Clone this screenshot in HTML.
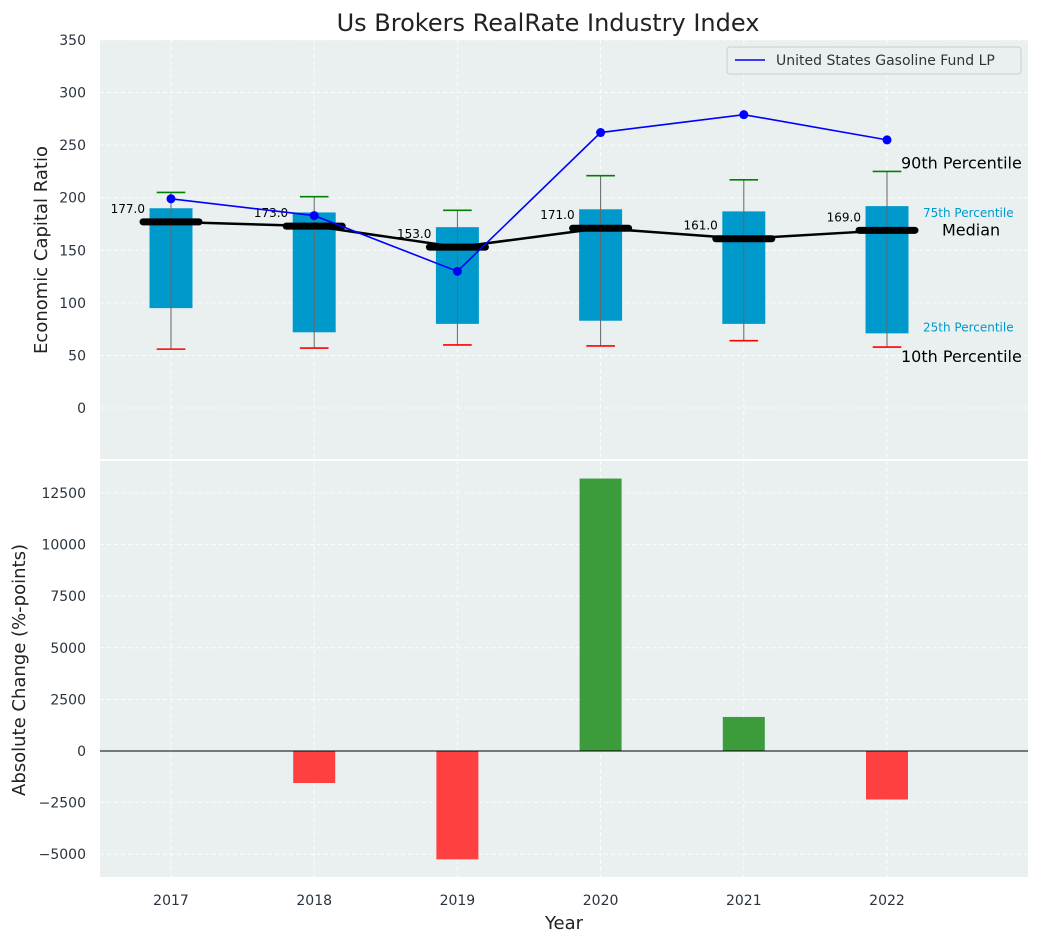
<!DOCTYPE html>
<html><head><meta charset="utf-8">
<style>
body{margin:0;background:#fff;font-family:"DejaVu Sans","Liberation Sans",sans-serif;}
svg text{font-family:"DejaVu Sans","Liberation Sans",sans-serif;}
</style></head>
<body>
<svg id="chart" width="1039" height="942" xmlns="http://www.w3.org/2000/svg"></svg>
<script>
const years = [2017, 2018, 2019, 2020, 2021, 2022];
const p10 = [56, 57, 60, 59, 64, 58];
const p25 = [95, 72, 80, 83, 80, 71];
const medians = [177, 173, 153, 171, 161, 169];
const p75 = [190, 186, 172, 189, 187, 192];
const p90 = [205, 201, 188, 221, 217, 225];
const fundValues = [199, 183, 130, 262, 279, 255];
const changes = [0, -1550, -5250, 13200, 1650, -2350];
const topTicks = [0, 50, 100, 150, 200, 250, 300, 350];
const botTicks = [-5000, -2500, 0, 2500, 5000, 7500, 10000, 12500];

const NS = "http://www.w3.org/2000/svg";
const svg = document.getElementById('chart');
function el(tag, attrs, parent) {
  const e = document.createElementNS(NS, tag);
  for (const k in attrs) e.setAttribute(k, attrs[k]);
  (parent || svg).appendChild(e);
  return e;
}
function txt(s, attrs, parent) { const t = el('text', attrs, parent); t.textContent = s; return t; }

const L = 100, R = 1028;
const x = v => 171 + (v - 2017) * 143.2;
const yT = v => 408 - v * 52.57 / 50;
const yB = v => 751 - v * 51.6 / 2500;
const tickColor = '#2a3440';

let e;
e = el('rect', {x: L, y: 40, width: R - L, height: 419, fill: '#eaeff0'});
 
e = el('rect', {x: L, y: 461, width: R - L, height: 416, fill: '#eaeff0'});
 

years.forEach(yr => {
  el('line', {x1: x(yr), x2: x(yr), y1: 40, y2: 459, stroke: '#fff', 'stroke-dasharray': '4,3', 'stroke-width': 0.8});
  el('line', {x1: x(yr), x2: x(yr), y1: 461, y2: 877, stroke: '#fff', 'stroke-dasharray': '4,3', 'stroke-width': 0.8});
});
topTicks.forEach(t => {
  el('line', {x1: L, x2: R, y1: yT(t), y2: yT(t), stroke: '#fff', 'stroke-dasharray': '4,3', 'stroke-width': 0.8});
  e = txt(t, {x: 86, y: yT(t) + 5, 'text-anchor': 'end', 'font-size': 14, fill: tickColor});
   
});
botTicks.forEach(t => {
  el('line', {x1: L, x2: R, y1: yB(t), y2: yB(t), stroke: '#fff', 'stroke-dasharray': '4,3', 'stroke-width': 0.8});
  e = txt(t < 0 ? '\u2212' + Math.abs(t) : t, {x: 86, y: yB(t) + 5, 'text-anchor': 'end', 'font-size': 14, fill: tickColor});
   
});

const hw = 0.15 * 143.2, cw = 0.1 * 143.2;
years.forEach((yr, i) => {
  const cx = x(yr);
  e = el('rect', {x: cx - hw, y: yT(p75[i]), width: 2 * hw, height: yT(p25[i]) - yT(p75[i]), fill: '#0099cc'});
   
  el('line', {x1: cx, x2: cx, y1: yT(p90[i]), y2: yT(p10[i]), stroke: '#666', 'stroke-width': 1});
  el('line', {x1: cx - cw, x2: cx + cw, y1: yT(p90[i]), y2: yT(p90[i]), stroke: 'green', 'stroke-width': 1.6});
  el('line', {x1: cx - cw, x2: cx + cw, y1: yT(p10[i]), y2: yT(p10[i]), stroke: 'red', 'stroke-width': 1.6});
});
el('polyline', {points: years.map((yr, i) => x(yr) + ',' + yT(medians[i])).join(' '), fill: 'none', stroke: '#000', 'stroke-width': 2.5});
years.forEach((yr, i) => {
  const cx = x(yr);
  e = el('line', {x1: cx - 28, x2: cx + 28, y1: yT(medians[i]), y2: yT(medians[i]), stroke: '#000', 'stroke-width': 7, 'stroke-linecap': 'round'});
   
  txt(medians[i].toFixed(1), {x: cx - 26, y: yT(medians[i]) - 9, 'text-anchor': 'end', 'font-size': 12, fill: '#000'});
});
el('polyline', {points: years.map((yr, i) => x(yr) + ',' + yT(fundValues[i])).join(' '), fill: 'none', stroke: 'blue', 'stroke-width': 1.6});
years.forEach((yr, i) => {
  e = el('circle', {cx: x(yr), cy: yT(fundValues[i]), r: 4.5, fill: 'blue'});
   
});
const ax = x(2022);
txt('90th Percentile', {x: ax + 14, y: yT(p90[5]) - 3, 'font-size': 16, fill: '#000'});
txt('75th Percentile', {x: ax + 36, y: yT(p75[5]) + 11, 'font-size': 12, fill: '#0099cc'});
txt('Median', {x: ax + 55, y: yT(medians[5]) + 5, 'font-size': 16, fill: '#000'});
txt('25th Percentile', {x: ax + 36, y: yT(p25[5]) - 2, 'font-size': 12, fill: '#0099cc'});
txt('10th Percentile', {x: ax + 14, y: yT(p10[5]) + 15, 'font-size': 16, fill: '#000'});

const lg = el('g', {});
 
el('rect', {x: 727, y: 47, width: 294, height: 27, fill: '#eaeff0', stroke: '#ccc', rx: 3}, lg);
el('line', {x1: 735, x2: 765, y1: 60, y2: 60, stroke: 'blue', 'stroke-width': 1.6}, lg);
txt('United States Gasoline Fund LP', {x: 776, y: 65, 'font-size': 14, fill: '#333'}, lg);

years.forEach((yr, i) => {
  const v = changes[i];
  e = el('rect', {x: x(yr) - 21, y: Math.min(yB(v), yB(0)), width: 42, height: Math.abs(yB(v) - yB(0)), fill: v >= 0 ? '#3c9c3c' : '#ff4040'});
   
});
el('line', {x1: L, x2: R, y1: yB(0), y2: yB(0), stroke: '#000', 'stroke-width': 1});

years.forEach(yr => {
  e = txt(yr, {x: x(yr), y: 905, 'text-anchor': 'middle', 'font-size': 14, fill: tickColor});
   
});

e = txt('Us Brokers RealRate Industry Index', {x: 548, y: 31, 'text-anchor': 'middle', 'font-size': 24, fill: '#222'});
 
e = txt('Economic Capital Ratio', {x: 0, y: 0, 'text-anchor': 'middle', 'font-size': 18, fill: '#222', transform: 'translate(47,250) rotate(-90)'});
 
e = txt('Absolute Change (%-points)', {x: 0, y: 0, 'text-anchor': 'middle', 'font-size': 18, fill: '#222', transform: 'translate(25,670) rotate(-90)'});
 
e = txt('Year', {x: 564, y: 929, 'text-anchor': 'middle', 'font-size': 18, fill: '#222'});
 
</script>
</body></html>
